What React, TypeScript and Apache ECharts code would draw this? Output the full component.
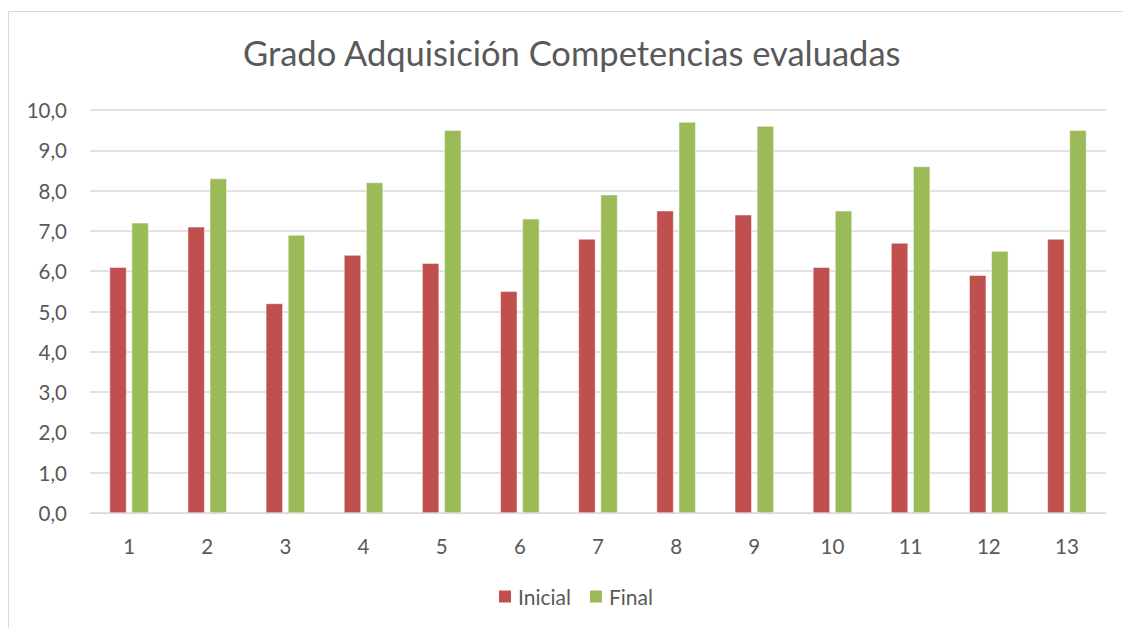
import React, { useEffect, useRef } from "react";
import * as echarts from "echarts";

const categories = ["1", "2", "3", "4", "5", "6", "7", "8", "9", "10", "11", "12", "13"];
const inicial = [6.1, 7.1, 5.2, 6.4, 6.2, 5.5, 6.8, 7.5, 7.4, 6.1, 6.7, 5.9, 6.8];
const final = [7.2, 8.3, 6.9, 8.2, 9.5, 7.3, 7.9, 9.7, 9.6, 7.5, 8.6, 6.5, 9.5];
const seriesNames = ["Inicial", "Final"];
const titleText = "Grado Adquisición Competencias evaluadas";

const FONT = "Lato, 'Open Sans', sans-serif";
const TEXT = "#595959";

export default function App() {
  const ref = useRef<HTMLDivElement>(null);
  useEffect(() => {
    if (!ref.current) return;
    const chart = echarts.init(ref.current, null, { renderer: "svg" });
    chart.setOption({
      animation: false,
      backgroundColor: "#ffffff",
      textStyle: { fontFamily: FONT },
      title: {
        text: titleText,
        left: 238,
        top: 30,
        textStyle: { fontFamily: FONT, fontSize: 34.5, fontWeight: "normal", color: TEXT },
      },
      graphic: [
        {
          type: "rect",
          shape: { x: 8.5, y: 11.5, width: 1130, height: 640 },
          style: { fill: "none", stroke: "#d9d9d9", lineWidth: 1 },
          silent: true,
        },
      ],
      legend: {
        data: seriesNames,
        bottom: 16,
        left: 492,
        itemWidth: 14,
        itemHeight: 14,
        itemGap: 17,
        icon: "rect",
        textStyle: { fontFamily: FONT, fontSize: 21, color: TEXT, padding: [0, 0, 0, 1] },
      },
      grid: { left: 90, right: 17, top: 110, bottom: 115 },
      xAxis: {
        type: "category",
        data: categories,
        axisLine: { lineStyle: { color: "#d9d9d9" } },
        axisTick: { show: false },
        axisLabel: { fontFamily: FONT, fontSize: 20.5, color: TEXT, margin: 22 },
      },
      yAxis: {
        type: "value",
        min: 0,
        max: 10,
        interval: 1,
        axisLine: { show: false },
        axisTick: { show: false },
        splitLine: { lineStyle: { color: "#d9d9d9", width: 1.5 } },
        axisLabel: {
          fontFamily: FONT,
          fontSize: 20.5,
          color: TEXT,
          margin: 23,
          formatter: (v: number) => v.toFixed(1).replace(".", ","),
        },
      },
      series: [
        {
          name: seriesNames[0],
          type: "bar",
          data: inicial,
          barWidth: 17,
          barGap: "30%",
          itemStyle: { color: "#c0504d", borderColor: "#ffffff", borderWidth: 0.5 },
        },
        {
          name: seriesNames[1],
          type: "bar",
          data: final,
          barWidth: 17,
          barGap: "30%",
          itemStyle: { color: "#9bbb59", borderColor: "#ffffff", borderWidth: 0.5 },
        },
      ],
    });
    return () => chart.dispose();
  }, []);
  return (
    <div
      ref={ref}
      style={{ position: "fixed", left: 0, top: 0, width: 1123, height: 628 }}
    />
  );
}
